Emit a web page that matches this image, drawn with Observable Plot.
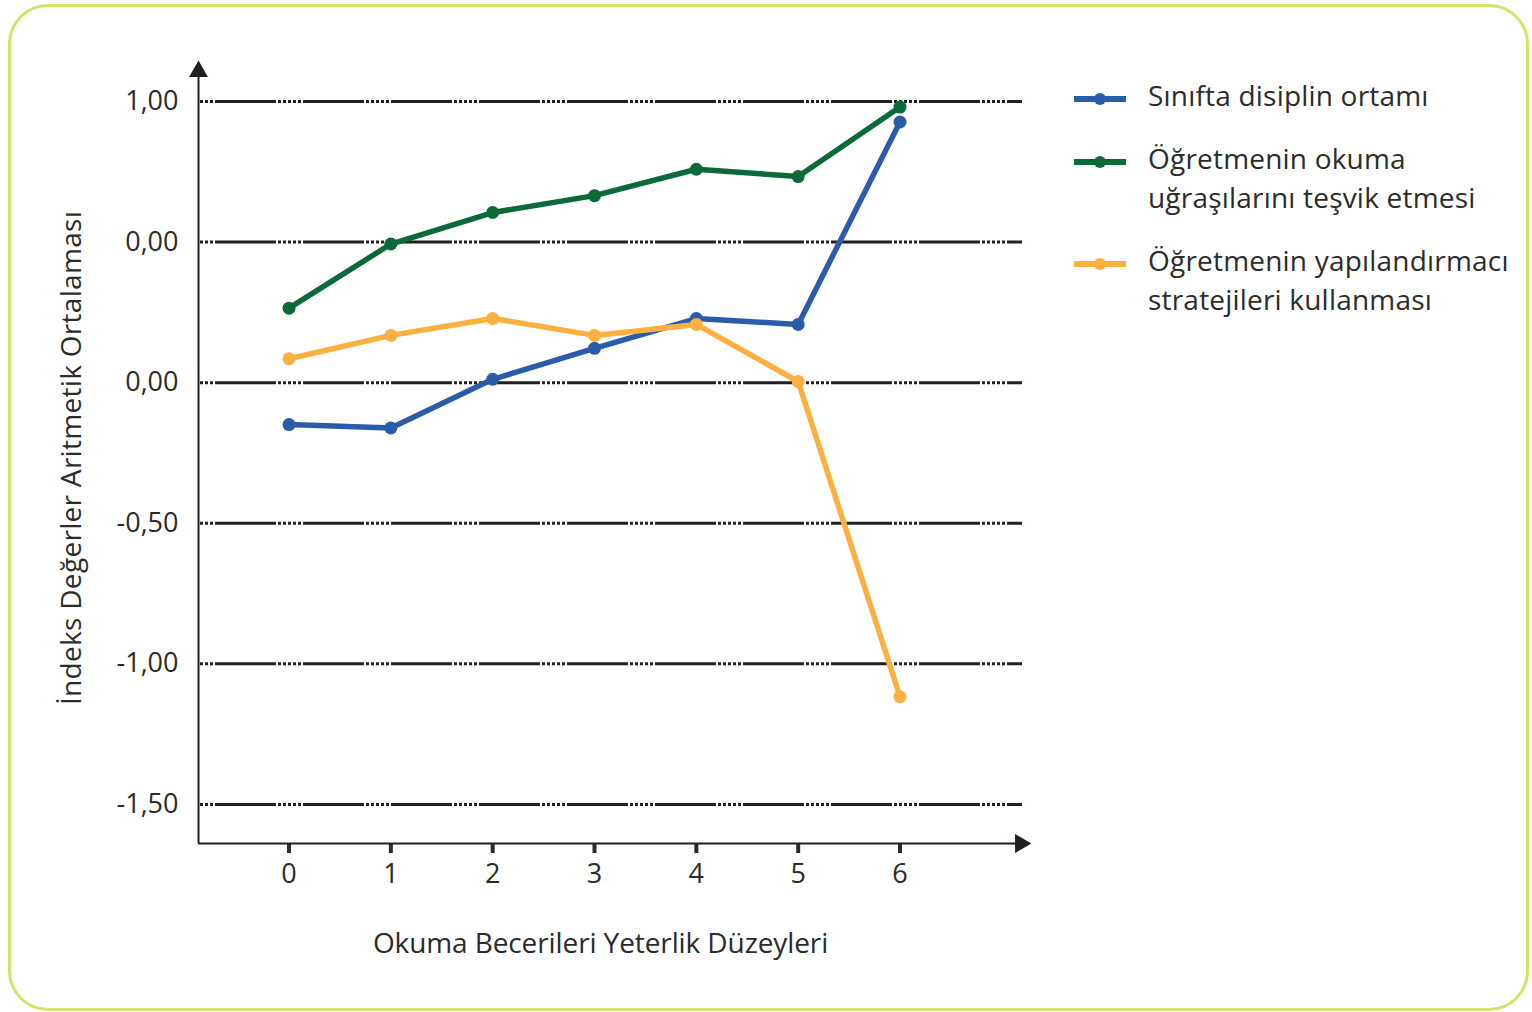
<!DOCTYPE html>
<html>
<head>
<meta charset="utf-8">
<script src="https://cdn.jsdelivr.net/npm/d3@7"></script>
<script src="https://cdn.jsdelivr.net/npm/@observablehq/plot@0.6"></script>
<style>
  html, body { margin: 0; padding: 0; background: #fff; }
  #wrap { position: relative; width: 1532px; height: 1012px; overflow: hidden; font-family: "Open Sans", "Lato", sans-serif; color: #2b2b2b; }
  #border { position: absolute; left: 8px; top: 4px; width: 1515px; height: 1001px; border: 3px solid #d5e26a; border-radius: 40px; box-sizing: content-box; }
  #chart { position: absolute; left: 0; top: 0; }
  #legend { position: absolute; left: 1072px; top: 76px; }
  .item { display: flex; align-items: flex-start; margin-bottom: 24px; }
  .item svg { flex: none; margin-top: 5px; }
  .item .lab { margin-left: 20px; font-size: 28px; line-height: 39px; letter-spacing: 0.2px; white-space: nowrap; }
</style>
</head>
<body>
<div id="wrap">
  <div id="border"></div>
  <div id="chart"></div>
  <div id="legend"></div>
</div>
<script>
const levels = [0, 1, 2, 3, 4, 5, 6];
const disiplin = [-0.149, -0.161, 0.012, 0.122, 0.228, 0.207, 0.927];
const tesvik = [0.265, 0.493, 0.605, 0.665, 0.759, 0.733, 0.980];
const yapilandirmaci = [0.085, 0.168, 0.228, 0.168, 0.207, 0.004, -1.117];

const seriesNames = [
  "Sınıfta disiplin ortamı",
  "Öğretmenin okuma uğraşılarını teşvik etmesi",
  "Öğretmenin yapılandırmacı stratejileri kullanması"
];
const legendLines = [
  ["Sınıfta disiplin ortamı"],
  ["Öğretmenin okuma", "uğraşılarını teşvik etmesi"],
  ["Öğretmenin yapılandırmacı", "stratejileri kullanması"]
];
const seriesColors = ["#2a5caa", "#0b6a38", "#fbb040"];

const yTickValues = [1, 0.5, 0, -0.5, -1, -1.5];
const yTickLabels = ["1,00", "0,00", "0,00", "-0,50", "-1,00", "-1,50"];

const xTitle = "Okuma Becerileri Yeterlik Düzeyleri";
const yTitle = "İndeks Değerler Aritmetik Ortalaması";

const seriesValues = [disiplin, tesvik, yapilandirmaci];
const data = seriesValues.flatMap((vals, i) =>
  levels.map((lv, j) => ({ level: lv, value: vals[j], series: seriesNames[i] }))
);

const xDomain = [-0.889, 7.203];
const yDomain = [-1.639, 1.103];

const chart = Plot.plot({
  width: 1532,
  height: 1012,
  marginLeft: 198,
  marginRight: 510,
  marginTop: 72,
  marginBottom: 169,
  style: { fontFamily: "'Open Sans', Lato, sans-serif", fontSize: "27px", color: "#2b2b2b", background: "transparent" },
  x: { domain: xDomain },
  y: { domain: yDomain },
  color: { domain: seriesNames, range: seriesColors },
  marks: [
    Plot.gridY(yTickValues, {
      stroke: "#231f20", strokeOpacity: 1, strokeWidth: 3,
      strokeDasharray: "61,2,3,2,3,2,3,2,3,2,3,2", strokeDashoffset: 71
    }),
    Plot.axisY(yTickValues, {
      tickSize: 0, tickPadding: 20, fontSize: 27, letterSpacing: -1,
      tickFormat: (d, i) => yTickLabels[yTickValues.indexOf(d)],
      label: yTitle, labelAnchor: "center", labelArrow: "none", labelOffset: 137
    }),
    Plot.axisX(levels, {
      tickSize: 10, tickPadding: 10, strokeWidth: 4, fontSize: 27,
      tickFormat: d => String(d),
      label: xTitle, labelAnchor: "center", labelArrow: "none", labelOffset: 109
    }),
    Plot.ruleX([xDomain[0]], { stroke: "#231f20", strokeWidth: 2 }),
    Plot.ruleY([yDomain[0]], { stroke: "#231f20", strokeWidth: 2 }),
    Plot.dot([{ x: xDomain[0], y: yDomain[1] }], { x: "x", y: "y", symbol: "triangle", r: 7, fill: "#231f20", dy: -1 }),
    Plot.dot([{ x: xDomain[1], y: yDomain[0] }], { x: "x", y: "y", symbol: "triangle", r: 7, fill: "#231f20", rotate: 90, dx: -2 }),
    Plot.line(data, { x: "level", y: "value", z: "series", stroke: "series", strokeWidth: 5.5 }),
    Plot.dot(data, { x: "level", y: "value", fill: "series", r: 6.5 })
  ]
});
document.getElementById("chart").appendChild(chart);

// adjust axis titles slightly to match the reference
d3.select(chart).selectAll("[aria-label='y-axis label'] text")
  .attr("font-size", 28).attr("letter-spacing", 0.3);
d3.select(chart).selectAll("[aria-label='x-axis label'] text")
  .attr("font-size", 28).attr("letter-spacing", -0.1).attr("dx", -10);

// Legend
const legend = d3.select("#legend");
seriesNames.forEach((name, i) => {
  const item = legend.append("div").attr("class", "item");
  const sw = item.append("svg").attr("width", 56).attr("height", 30);
  sw.append("line").attr("x1", 2).attr("x2", 54).attr("y1", 18).attr("y2", 18)
    .attr("stroke", seriesColors[i]).attr("stroke-width", 6);
  sw.append("circle").attr("cx", 28).attr("cy", 18).attr("r", 6).attr("fill", seriesColors[i]);
  const lab = item.append("div").attr("class", "lab");
  legendLines[i].forEach(t => lab.append("div").text(t));
});
</script>
</body>
</html>
